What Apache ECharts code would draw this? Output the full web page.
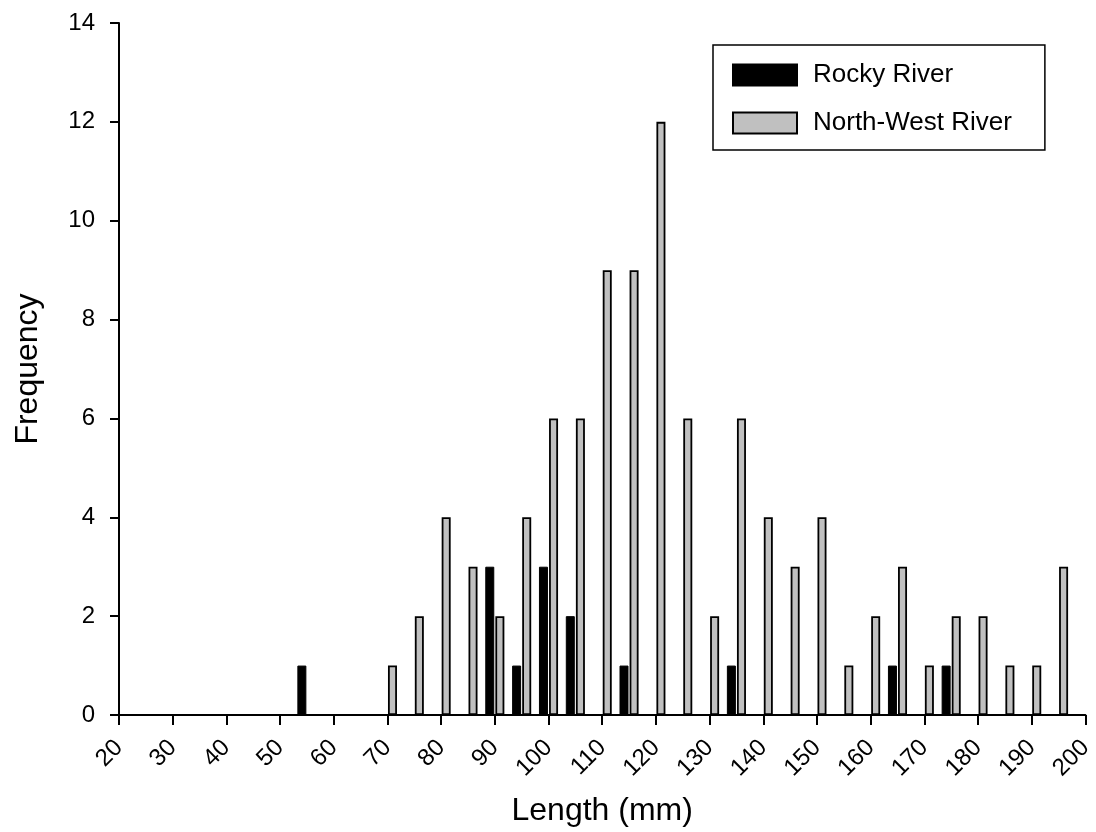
<!DOCTYPE html>
<html>
<head>
<meta charset="utf-8">
<script src="https://cdn.jsdelivr.net/npm/echarts@6/dist/echarts.min.js"></script>
<style>
  html, body { margin: 0; padding: 0; background: #fff; }
  #chart { width: 1096px; height: 832px; }
</style>
</head>
<body>
<div id="chart"></div>
<script>
// bin centres (mm) and frequencies
var rockyLength = [55, 90, 95, 100, 105, 115, 135, 165, 175];
var rockyFreq   = [1, 3, 1, 3, 2, 1, 1, 1, 1];
var nwLength = [70, 75, 80, 85, 90, 95, 100, 105, 110, 115, 120, 125, 130,
                135, 140, 145, 150, 155, 160, 165, 170, 175, 180, 185, 190, 195];
var nwFreq   = [1, 2, 4, 3, 2, 4, 6, 6, 9, 9, 12, 6, 2,
                6, 4, 3, 4, 1, 2, 3, 1, 2, 2, 1, 1, 3];

var font = 'Liberation Sans, Arial, sans-serif';

function pairs(xs, ys) {
  return xs.map(function (x, i) { return [x, ys[i]]; });
}

var myChart = echarts.init(document.getElementById('chart'));
var option = {
  backgroundColor: '#fff',
  animation: false,
  grid: { left: 119, right: 9, top: 23, bottom: 116 },
  legend: {
    orient: 'vertical',
    left: 713,
    top: 45,
    padding: [17, 33, 14, 19],
    itemWidth: 64,
    itemHeight: 21,
    itemGap: 22,
    icon: 'rect',
    borderColor: '#000',
    borderWidth: 1.5,
    borderRadius: 0,
    backgroundColor: '#fff',
    textStyle: { fontFamily: font, fontSize: 26, lineHeight: 21, color: '#000', padding: [0, 0, 0, 11] },
    data: ['Rocky River', 'North-West River']
  },
  xAxis: {
    type: 'value',
    min: 20,
    max: 200,
    interval: 10,
    name: 'Length (mm)',
    nameLocation: 'middle',
    nameGap: 80,
    nameTextStyle: { fontFamily: font, fontSize: 32, color: '#000' },
    axisLine: { show: true, lineStyle: { color: '#000', width: 2 } },
    axisTick: { show: true, length: 10, lineStyle: { color: '#000', width: 2 } },
    axisLabel: { rotate: 45, margin: 29, fontFamily: font, fontSize: 24, color: '#000' },
    splitLine: { show: false }
  },
  yAxis: {
    type: 'value',
    min: 0,
    max: 14,
    interval: 2,
    name: 'Frequency',
    nameLocation: 'middle',
    nameGap: 75,
    nameTextStyle: { fontFamily: font, fontSize: 32, color: '#000' },
    axisLine: { show: true, lineStyle: { color: '#000', width: 2 } },
    axisTick: { show: true, length: 9, lineStyle: { color: '#000', width: 2 } },
    axisLabel: { margin: 24, fontFamily: font, fontSize: 24, color: '#000' },
    splitLine: { show: false }
  },
  series: [
    {
      name: 'Rocky River',
      type: 'bar',
      barWidth: 9,
      barGap: '12%',
      itemStyle: { color: '#000', borderColor: '#000', borderWidth: 1 },
      data: pairs(rockyLength, rockyFreq)
    },
    {
      name: 'North-West River',
      type: 'bar',
      barWidth: 9,
      barGap: '12%',
      itemStyle: { color: '#c0c0c0', borderColor: '#000', borderWidth: 1.8 },
      data: pairs(nwLength, nwFreq)
    }
  ]
};
myChart.setOption(option);
window.addEventListener('resize', function () { myChart.resize(); });
</script>
</body>
</html>
